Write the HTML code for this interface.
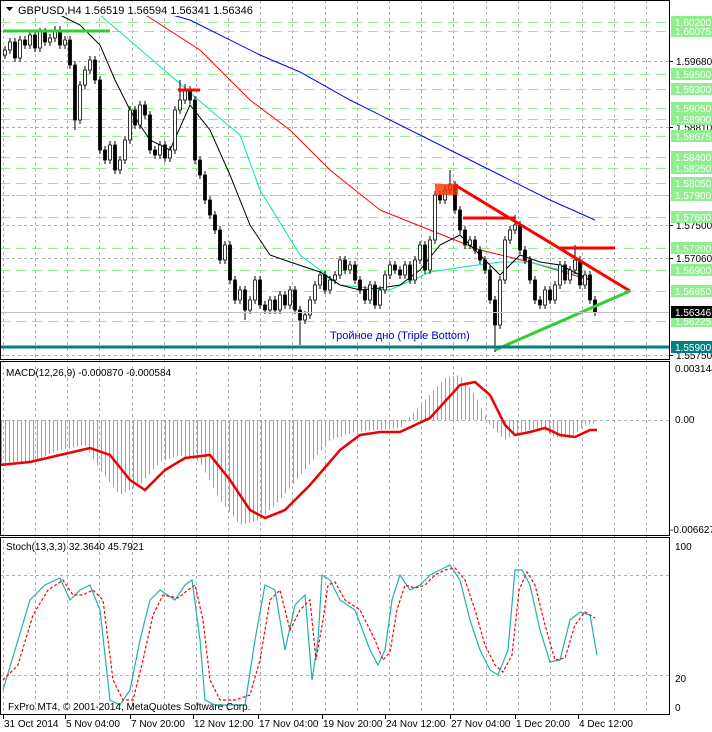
<!DOCTYPE html>
<html><head><meta charset="utf-8"><style>
body{margin:0;background:#fff;}
svg{display:block;font-family:"Liberation Sans",sans-serif;}
</style></head><body>
<svg width="712" height="732" xmlns="http://www.w3.org/2000/svg">
<defs>
<pattern id="hp" patternUnits="userSpaceOnUse" width="4" height="10"><rect x="1" y="0" width="1" height="10" fill="#a0a0a0"/></pattern>
</defs>
<rect width="712" height="732" fill="#fff"/>
<g stroke="#b0b0b0" stroke-dasharray="3,3">
<path d="M3.5 0V715M35.5 0V715M67.5 0V715M99.5 0V715M132.5 0V715M164.5 0V715M196.5 0V715M228.5 0V715M260.5 0V715M292.5 0V715M325.5 0V715M357.5 0V715M389.5 0V715M421.5 0V715M453.5 0V715M486.5 0V715M518.5 0V715M550.5 0V715M582.5 0V715M614.5 0V715M646.5 0V715"/>
<path d="M0 61.5H669M0 127.5H669M0 195.5H669M0 225.5H669M0 258.5H669M0 355.5H669M0 420.5H669M0 575.5H669M0 675.5H669"/>
</g>
<path stroke="#90ee90" stroke-dasharray="10,6" d="M0 22.5H669M0 31.5H669M0 74.5H669M0 89.5H669M0 108.5H669M0 119.5H669M0 136.5H669M0 157.5H669M0 168.5H669M0 183.5H669M0 195.5H669M0 217.5H669M0 248.5H669M0 270.5H669M0 291.5H669M0 321.5H669"/>
<polyline fill="none" stroke="#0000ff" points="130,3 190,20 260,55 300,72 350,100 400,125 450,150 500,175 550,200 595,220"/>
<polyline fill="none" stroke="#ff0000" points="130,5 200,50 250,100 290,130 330,170 380,210 430,230 480,250 530,262 590,280"/>
<polyline fill="none" stroke="#00e8a0" points="100,15 170,75 210,110 240,135 260,190 300,255 340,285 390,290 430,272 470,266 500,262 530,262 560,270 590,277"/>
<polyline fill="none" stroke="#000" points="60,15 80,25 100,45 115,80 130,110 150,140 170,150 190,105 210,130 230,175 250,225 270,255 290,262 320,272 340,285 360,290 380,288 400,285 420,270 440,245 460,235 480,255 500,275 520,255 540,262 560,265 590,280"/>
<path fill="none" stroke="#000" d="M5 46V59 M10 38V54 M15 38V62 M20 36V62 M25 36V49 M30 31V49 M35 31V52 M40 28V52 M45 28V46 M50 34V46 M55 26V42 M60 26V49 M65 36V49 M70 36V69 M75 61V130 M80 81V124 M85 66V89 M90 56V74 M95 56V84 M100 76V154 M105 146V164 M110 141V164 M115 141V174 M120 156V174 M125 136V164 M130 106V144 M135 106V129 M140 101V129 M145 101V119 M150 111V154 M155 146V159 M160 141V159 M165 141V162 M170 146V162 M175 106V154 M180 80V114 M185 84V104 M190 86V104 M195 96V164 M200 156V179 M205 171V204 M210 196V219 M215 211V234 M220 226V264 M225 241V264 M230 241V284 M235 276V304 M240 286V304 M245 286V320 M250 296V314 M255 276V304 M260 276V309 M265 301V314 M270 296V314 M275 296V314 M280 291V314 M285 291V309 M290 286V309 M295 286V314 M300 306V345 M305 311V324 M310 296V319 M315 281V304 M320 271V289 M325 271V294 M330 276V294 M335 271V284 M340 256V279 M345 256V274 M350 261V274 M355 261V284 M360 276V294 M365 286V304 M370 281V304 M375 281V309 M380 286V309 M385 271V294 M390 261V279 M395 261V274 M400 266V279 M405 261V279 M410 261V284 M415 256V284 M420 241V264 M425 241V274 M430 236V274 M435 191V244 M440 191V204 M445 186V204 M450 170V194 M455 181V214 M460 206V234 M465 226V249 M470 236V249 M475 236V254 M480 246V264 M485 256V274 M490 266V304 M495 296V352 M500 276V329 M505 236V284 M510 226V244 M515 215V234 M520 221V254 M525 246V264 M530 256V284 M535 276V304 M540 296V309 M545 286V309 M550 286V304 M555 281V304 M560 261V289 M565 261V284 M570 266V284 M575 245V274 M580 256V289 M585 271V289 M590 271V304 M595 296V316"/>
<path fill="#000" stroke="#000" stroke-width="0.8" d="M13.5 42h3v16h-3z M23.5 40h3v5h-3z M33.5 35h3v13h-3z M43.5 32h3v10h-3z M58.5 30h3v15h-3z M68.5 40h3v25h-3z M73.5 65h3v55h-3z M93.5 60h3v20h-3z M98.5 80h3v70h-3z M103.5 150h3v10h-3z M113.5 145h3v25h-3z M133.5 110h3v15h-3z M143.5 105h3v10h-3z M148.5 115h3v35h-3z M153.5 150h3v5h-3z M163.5 145h3v13h-3z M188.5 90h3v10h-3z M193.5 100h3v60h-3z M198.5 160h3v15h-3z M203.5 175h3v25h-3z M208.5 200h3v15h-3z M213.5 215h3v15h-3z M218.5 230h3v30h-3z M228.5 245h3v35h-3z M233.5 280h3v20h-3z M243.5 290h3v20h-3z M258.5 280h3v25h-3z M263.5 305h3v5h-3z M273.5 300h3v10h-3z M283.5 295h3v10h-3z M293.5 290h3v20h-3z M298.5 310h3v10h-3z M323.5 275h3v15h-3z M343.5 260h3v10h-3z M353.5 265h3v15h-3z M358.5 280h3v10h-3z M363.5 290h3v10h-3z M373.5 285h3v20h-3z M393.5 265h3v5h-3z M398.5 270h3v5h-3z M408.5 265h3v15h-3z M423.5 245h3v25h-3z M438.5 195h3v5h-3z M453.5 185h3v25h-3z M458.5 210h3v20h-3z M463.5 230h3v15h-3z M473.5 240h3v10h-3z M478.5 250h3v10h-3z M483.5 260h3v10h-3z M488.5 270h3v30h-3z M493.5 300h3v25h-3z M518.5 225h3v25h-3z M523.5 250h3v10h-3z M528.5 260h3v20h-3z M533.5 280h3v20h-3z M538.5 300h3v5h-3z M548.5 290h3v10h-3z M563.5 265h3v15h-3z M578.5 260h3v25h-3z M588.5 275h3v25h-3z M593.5 300h3v12h-3z"/>
<path fill="#fff" stroke="#000" stroke-width="0.8" d="M3.5 50h3v5h-3z M8.5 42h3v8h-3z M18.5 40h3v18h-3z M28.5 35h3v10h-3z M38.5 32h3v16h-3z M48.5 38h3v4h-3z M53.5 30h3v8h-3z M63.5 40h3v5h-3z M78.5 85h3v35h-3z M83.5 70h3v15h-3z M88.5 60h3v10h-3z M108.5 145h3v15h-3z M118.5 160h3v10h-3z M123.5 140h3v20h-3z M128.5 110h3v30h-3z M138.5 105h3v20h-3z M158.5 145h3v10h-3z M168.5 150h3v8h-3z M173.5 110h3v40h-3z M178.5 100h3v10h-3z M183.5 90h3v10h-3z M223.5 245h3v15h-3z M238.5 290h3v10h-3z M248.5 300h3v10h-3z M253.5 280h3v20h-3z M268.5 300h3v10h-3z M278.5 295h3v15h-3z M288.5 290h3v15h-3z M303.5 315h3v5h-3z M308.5 300h3v15h-3z M313.5 285h3v15h-3z M318.5 275h3v10h-3z M328.5 280h3v10h-3z M333.5 275h3v5h-3z M338.5 260h3v15h-3z M348.5 265h3v5h-3z M368.5 285h3v15h-3z M378.5 290h3v15h-3z M383.5 275h3v15h-3z M388.5 265h3v10h-3z M403.5 265h3v10h-3z M413.5 260h3v20h-3z M418.5 245h3v15h-3z M428.5 240h3v30h-3z M433.5 195h3v45h-3z M443.5 190h3v10h-3z M448.5 185h3v5h-3z M468.5 240h3v5h-3z M498.5 280h3v45h-3z M503.5 240h3v40h-3z M508.5 230h3v10h-3z M513.5 225h3v5h-3z M543.5 290h3v15h-3z M553.5 285h3v15h-3z M558.5 265h3v20h-3z M568.5 270h3v10h-3z M573.5 260h3v10h-3z M583.5 275h3v10h-3z"/>
<line x1="3" y1="31" x2="110" y2="31" stroke="#33cc33" stroke-width="3"/>
<line x1="178" y1="90" x2="200" y2="90" stroke="#ff0000" stroke-width="3"/>
<rect x="435" y="184" width="23" height="11" fill="#ff3300" opacity="0.8"/>
<line x1="463" y1="218" x2="515" y2="218" stroke="#ff0000" stroke-width="3"/>
<line x1="558" y1="248" x2="615" y2="248" stroke="#ff0000" stroke-width="3"/>
<line x1="455" y1="185" x2="630" y2="291" stroke="#ff0000" stroke-width="3"/>
<line x1="495" y1="350" x2="630" y2="291" stroke="#33cc33" stroke-width="3"/>
<line x1="0" y1="312.5" x2="669" y2="312.5" stroke="#c0c0c0"/>
<line x1="0" y1="347" x2="669" y2="347" stroke="#008080" stroke-width="3"/>
<text x="330" y="339" font-size="11" fill="#0000cc">Тройное дно (Triple Bottom)</text>
<rect x="2" y="2" width="250" height="14" fill="#fff"/>
<text x="18" y="14" font-size="11" fill="#000">GBPUSD,H4  1.56519 1.56594 1.56341 1.56346</text>
<polygon points="6,7 13,7 9.5,11" fill="#000"/>
<g font-size="10">
<path stroke="#000" d="M669 61.5h4M669 127.5h4M669 225.5h4M669 258.5h4M669 355.5h4"/>
<text x="676" y="65">1.59680</text><text x="676" y="131">1.58810</text><text x="676" y="229">1.57500</text><text x="676" y="262">1.57060</text><text x="676" y="359">1.55750</text>
<g fill="#90ee90">
<rect x="671" y="16" width="41" height="12"/><rect x="671" y="25" width="41" height="12"/><rect x="671" y="68" width="41" height="12"/><rect x="671" y="83" width="41" height="12"/><rect x="671" y="102" width="41" height="12"/><rect x="671" y="113" width="41" height="12"/><rect x="671" y="130" width="41" height="12"/><rect x="671" y="151" width="41" height="12"/><rect x="671" y="162" width="41" height="12"/><rect x="671" y="177" width="41" height="12"/><rect x="671" y="189" width="41" height="12"/><rect x="671" y="211" width="41" height="12"/><rect x="671" y="242" width="41" height="12"/><rect x="671" y="264" width="41" height="12"/><rect x="671" y="285" width="41" height="12"/><rect x="671" y="315" width="41" height="12"/>
</g>
<g fill="#fff">
<text x="675" y="26">1.60200</text><text x="675" y="35">1.60075</text><text x="675" y="78">1.59500</text><text x="675" y="93">1.59300</text><text x="675" y="112">1.59050</text><text x="675" y="123">1.58900</text><text x="675" y="140">1.58675</text><text x="675" y="161">1.58400</text><text x="675" y="172">1.58250</text><text x="675" y="187">1.58050</text><text x="675" y="199">1.57900</text><text x="675" y="221">1.57600</text><text x="675" y="252">1.57200</text><text x="675" y="274">1.56900</text><text x="675" y="295">1.56650</text><text x="675" y="325">1.56225</text>
</g>
<rect x="671" y="306" width="41" height="12" fill="#000"/><text x="675" y="316" fill="#fff">1.56346</text>
<rect x="671" y="341" width="41" height="12" fill="#008080"/><text x="675" y="351" fill="#fff">1.55900</text>
</g>
<polygon fill="url(#hp)" points="0,420 0,465 30,462 60,450 85,445 100,470 120,495 140,485 160,462 180,455 200,462 220,500 240,525 260,520 280,500 305,470 330,440 355,432 380,430 400,428 425,400 445,378 460,375 475,395 490,425 505,440 520,432 540,428 555,437 570,438 585,425 597,422 597,420"/>
<polyline fill="none" stroke="#ee0000" stroke-width="2.5" points="0,465 30,462 60,455 90,448 110,455 130,480 145,490 165,470 185,458 210,455 230,480 250,510 265,518 285,510 310,485 340,450 360,435 380,432 400,432 430,418 460,385 475,382 490,395 505,425 515,435 530,432 545,428 560,435 575,437 590,430 597,430"/>
<text x="6" y="376" font-size="10" fill="#000">MACD(12,26,9) -0.000870 -0.000584</text>
<polyline fill="none" stroke="#20b2aa" stroke-width="1.2" points="3,690 15,650 30,600 45,585 60,578 70,600 80,590 90,585 100,610 110,700 120,705 130,690 140,640 150,600 160,590 175,600 185,585 192,580 200,640 205,700 215,705 230,705 245,705 255,640 265,585 275,590 285,650 295,605 305,595 312,680 318,640 322,575 330,580 340,600 355,610 370,650 378,665 385,650 392,600 400,575 410,590 420,585 430,575 440,570 450,565 460,580 470,620 480,650 490,670 498,675 508,650 515,570 522,570 530,585 540,630 550,662 560,660 570,620 580,612 590,615 597,655"/>
<polyline fill="none" stroke="#ff0000" stroke-width="1.2" stroke-dasharray="3,2" points="3,680 18,665 33,615 48,590 63,580 73,595 83,595 93,590 103,600 113,680 123,700 133,700 143,660 153,615 163,595 178,598 188,590 195,585 203,620 210,680 220,700 235,700 250,695 260,660 270,600 280,590 290,630 300,610 310,600 316,660 323,620 328,585 335,582 345,600 360,610 375,640 383,660 390,652 397,610 405,585 415,588 425,585 435,575 445,570 455,568 465,580 475,610 485,645 495,665 503,672 512,655 519,590 527,572 535,585 545,625 555,660 565,658 575,625 585,612 595,618"/>
<text x="6" y="550" font-size="10" fill="#000">Stoch(13,3,3) 32.3640 45.7921</text>
<text x="8" y="710" font-size="10" fill="#000">FxPro MT4, © 2001-2014, MetaQuotes Software Corp.</text>
<rect x="0.5" y="0.5" width="669" height="359" fill="none" stroke="#000"/>
<rect x="0.5" y="361.5" width="669" height="174" fill="none" stroke="#000"/>
<rect x="0.5" y="537.5" width="669" height="177" fill="none" stroke="#000"/>
<g font-size="10" fill="#000">
<text x="675" y="372">0.003144</text>
<text x="675" y="423">0.00</text>
<text x="670" y="533">-0.006627</text>
<text x="675" y="550">100</text>
<text x="675" y="682">20</text>
<text x="675" y="711">0</text>
<path stroke="#000" d="M3.5 715v4M65.5 715v4M130.5 715v4M193.5 715v4M258.5 715v4M322.5 715v4M385.5 715v4M450.5 715v4M515.5 715v4M578.5 715v4"/>
<text x="4" y="727">31 Oct 2014</text><text x="66" y="727">5 Nov 04:00</text><text x="131" y="727">7 Nov 20:00</text><text x="194" y="727">12 Nov 12:00</text><text x="259" y="727">17 Nov 04:00</text><text x="323" y="727">19 Nov 20:00</text><text x="386" y="727">24 Nov 12:00</text><text x="451" y="727">27 Nov 04:00</text><text x="516" y="727">1 Dec 20:00</text><text x="579" y="727">4 Dec 12:00</text>
</g>
</svg>
</body></html>
